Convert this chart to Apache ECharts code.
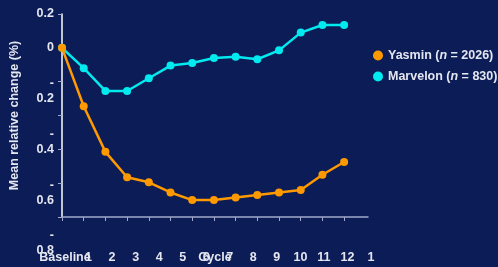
<!DOCTYPE html>
<html>
<head>
<meta charset="utf-8">
<script src="https://cdn.jsdelivr.net/npm/echarts@6/dist/echarts.min.js"></script>
<style>
  html, body { margin: 0; padding: 0; background: #0b1c56; }
  #main { width: 498px; height: 267px; }
</style>
</head>
<body>
<div id="main"></div>
<script>
// data
var cycles = [0, 1, 2, 3, 4, 5, 6, 7, 8, 9, 10, 11, 12, 13];
var cycleLabels = ['Baseline', '1', '2', '3', '4', '5', '6', '7', '8', '9', '10', '11', '12', '1'];
var yasmin = [0, -0.23, -0.41, -0.51, -0.53, -0.57, -0.60, -0.60, -0.59, -0.58, -0.57, -0.56, -0.50, -0.45];
var marvelon = [0, -0.08, -0.17, -0.17, -0.12, -0.07, -0.06, -0.04, -0.035, -0.045, -0.01, 0.06, 0.09, 0.09];
var seriesNames = ['Yasmin', 'Marvelon'];
var seriesN = [2026, 830];
var seriesColors = ['#ff9900', '#00eaf0'];
var yLabelValues = [2 / 15, 0, -0.2, -0.4, -0.6, -0.8];
var yLabelTexts = ['0.2', '0', '-\n0.2\n ', '-\n0.4\n ', '-\n0.6\n ', '-\n0.8\n '];

var font = '"Liberation Sans", Arial, sans-serif';
var txt = '#e4e6f0';

function pairs(vals) {
  var out = [];
  for (var i = 0; i < vals.length; i++) {
    out.push([cycles[i], vals[i]]);
  }
  return out;
}

var chart = echarts.init(document.getElementById('main'), null, { renderer: 'canvas' });

var option = {
  backgroundColor: '#0b1c56',
  animation: false,
  textStyle: { fontFamily: font },
  grid: [
    { left: 62, top: 14, width: 306, height: 203, outerBoundsMode: 'none', containLabel: false },
    { left: 62, top: 14, width: 306, height: 236.8, outerBoundsMode: 'none', containLabel: false }
  ],
  legend: {
    orient: 'vertical',
    left: 368,
    top: 44,
    icon: 'circle',
    itemWidth: 10,
    itemHeight: 10,
    itemGap: 8,
    data: seriesNames,
    formatter: function (name) {
      var k = seriesNames.indexOf(name);
      return '{b|' + name + ' (}{i|n}{b| = ' + seriesN[k] + ')}';
    },
    textStyle: {
      color: txt,
      fontFamily: font,
      rich: {
        b: { color: txt, fontWeight: 'bold', fontSize: 12.5, fontFamily: font, lineHeight: 14 },
        i: { color: txt, fontWeight: 'bold', fontStyle: 'italic', fontSize: 12.5, fontFamily: font, lineHeight: 14 }
      }
    }
  },
  xAxis: [
    {
      type: 'value',
      gridIndex: 0,
      min: 0,
      max: 14.1,
      name: 'Cycle',
      nameLocation: 'middle',
      nameGap: 34,
      nameTextStyle: { color: txt, fontWeight: 'bold', fontSize: 12.5, fontFamily: font },
      axisLine: { show: true, onZero: false, lineStyle: { color: '#a3a8cc', width: 1.5 } },
      axisTick: { show: true, length: 4, customValues: cycles, lineStyle: { color: '#a3a8cc' } },
      axisLabel: { show: false },
      splitLine: { show: false }
    },
    {
      type: 'category',
      gridIndex: 0,
      position: 'bottom',
      boundaryGap: false,
      data: cycleLabels,
      axisLine: { show: false, onZero: false },
      axisTick: { show: false },
      axisLabel: {
        interval: 0,
        margin: 34,
        padding: [0, 0, 0, 6],
        color: txt,
        fontWeight: 'bold',
        fontSize: 12.5,
        fontFamily: font
      },
      splitLine: { show: false }
    },
    { type: 'value', gridIndex: 1, show: false }
  ],
  yAxis: [
    {
      type: 'value',
      gridIndex: 0,
      min: -2 / 3,
      max: 2 / 15,
      interval: 2 / 15,
      name: 'Mean relative change (%)',
      nameLocation: 'middle',
      nameGap: 41,
      nameTextStyle: { color: txt, fontWeight: 'bold', fontSize: 12.5, fontFamily: font },
      axisLine: { show: true, lineStyle: { color: '#ffffff', width: 1.5 } },
      axisTick: { show: true, length: 4, lineStyle: { color: '#a3a8cc' } },
      axisLabel: { show: false },
      splitLine: { show: false }
    },
    {
      type: 'value',
      gridIndex: 1,
      min: -0.8,
      max: 2 / 15,
      axisLine: { show: false },
      axisTick: { show: false },
      splitLine: { show: false },
      axisLabel: {
        customValues: yLabelValues,
        margin: 8,
        color: txt,
        fontWeight: 'bold',
        fontSize: 12.5,
        lineHeight: 15,
        fontFamily: font,
        formatter: function (v) {
          for (var i = 0; i < yLabelValues.length; i++) {
            if (Math.abs(yLabelValues[i] - v) < 1e-6) return yLabelTexts[i];
          }
          return '';
        }
      }
    }
  ],
  series: [
    {
      name: 'Marvelon',
      type: 'line',
      xAxisIndex: 0,
      yAxisIndex: 0,
      data: pairs(marvelon),
      symbol: 'circle',
      symbolSize: 8,
      color: seriesColors[1],
      lineStyle: { width: 2.5, color: seriesColors[1] },
      itemStyle: { color: seriesColors[1] },
      z: 2
    },
    {
      name: 'Yasmin',
      type: 'line',
      xAxisIndex: 0,
      yAxisIndex: 0,
      data: pairs(yasmin),
      symbol: 'circle',
      symbolSize: 8,
      color: seriesColors[0],
      lineStyle: { width: 2.5, color: seriesColors[0] },
      itemStyle: { color: seriesColors[0] },
      z: 3
    }
  ]
};

chart.setOption(option);
</script>
</body>
</html>
